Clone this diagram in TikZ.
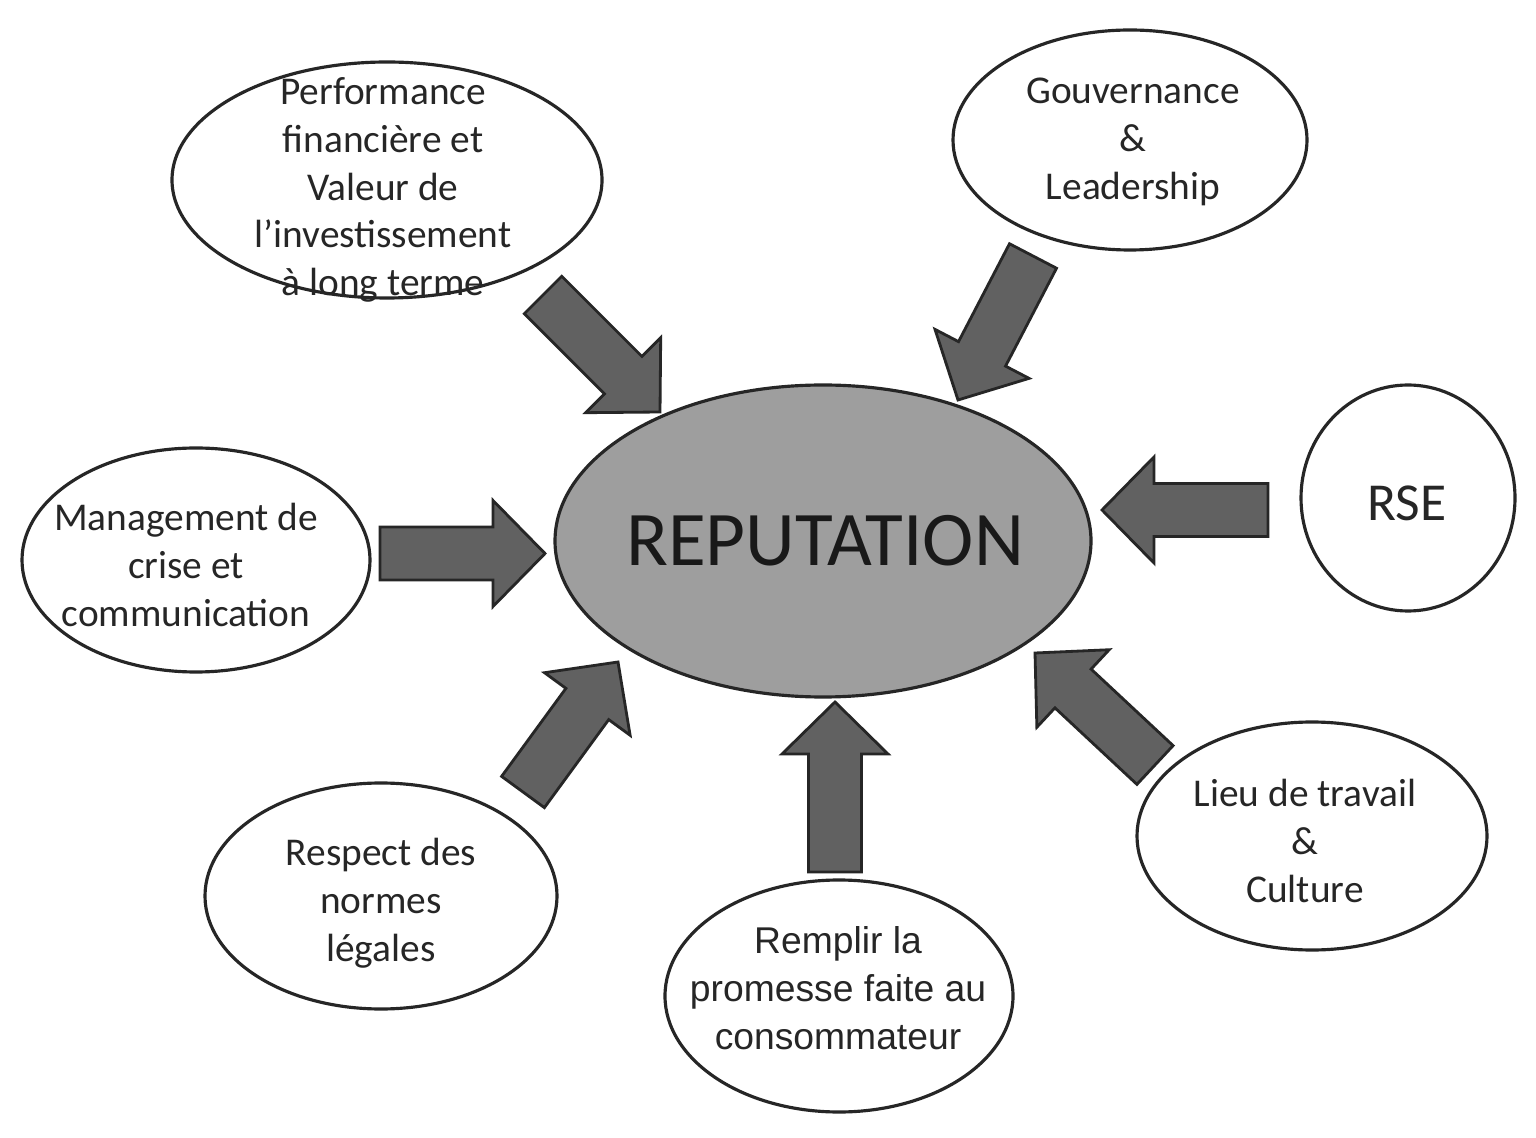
\documentclass[tikz,border=0pt]{standalone}
\usepackage{fontspec}
\setmainfont{Carlito}
\newfontfamily\arialfont{Liberation Sans}
\usepackage{tikz}
\usetikzlibrary{shapes.geometric,calc}

% block arrow from tail coordinate to tip coordinate
\newcommand{\flechebloc}[2]{%
  \coordinate (#1-col) at ($(#2)!0.52cm!(#1)$);
  \draw[fleche] ($(#1)!0.265cm!90:(#2)$) -- ($(#1-col)!0.265cm!90:(#2)$)
    -- ($(#1-col)!0.53cm!90:(#2)$) -- (#2) -- ($(#1-col)!0.53cm!-90:(#2)$)
    -- ($(#1-col)!0.265cm!-90:(#2)$) -- ($(#1)!0.265cm!-90:(#2)$) -- cycle;
}

\begin{document}
\begin{tikzpicture}[
    bulle/.style={ellipse, draw=black!85, line width=0.9pt, inner sep=0pt},
    texte/.style={align=center, font=\fontsize{11.2}{13.6}\selectfont, text=black!85},
    fleche/.style={draw=black!85, line width=0.8pt, fill=black!62, line join=miter}
]
\useasboundingbox[fill=white] (0,0) rectangle (15.36,11.37);

% Centre
\node[bulle, fill=black!38, minimum width=5.36cm, minimum height=3.12cm] (repu) at (8.23,5.96) {};
\node[font=\fontsize{22}{26}\selectfont, text=black!90] at (8.25,5.96) {REPUTATION};

% Facteurs
\node[bulle, minimum width=4.30cm, minimum height=2.36cm] (perf) at (3.87,9.57) {};
\node[texte] at (3.83,9.47) {Performance\\financière et\\Valeur de\\l’investissement\\à long terme};

\node[bulle, minimum width=3.54cm, minimum height=2.20cm] (gouv) at (11.30,9.97) {};
\node[texte] at (11.33,9.95) {Gouvernance\\\&\\Leadership};

\node[bulle, minimum width=2.14cm, minimum height=2.26cm] (rse) at (14.08,6.39) {};
\node[texte, font=\fontsize{15.2}{18}\selectfont] at (14.07,6.34) {RSE};

\node[bulle, minimum width=3.48cm, minimum height=2.24cm] (crise) at (1.96,5.77) {};
\node[texte] at (1.86,5.72) {Management de\\crise et\\communication};

\node[bulle, minimum width=3.52cm, minimum height=2.26cm] (normes) at (3.81,2.41) {};
\node[texte] at (3.81,2.34) {Respect des\\normes\\légales};

\node[bulle, minimum width=3.48cm, minimum height=2.32cm] (promesse) at (8.39,1.41) {};
\node[texte, font=\arialfont\fontsize{10.6}{13.6}\selectfont] at (8.38,1.49) {Remplir la\\promesse faite au\\consommateur};

\node[bulle, minimum width=3.50cm, minimum height=2.28cm] (lieu) at (13.12,3.01) {};
\node[texte] at (13.05,2.96) {Lieu de travail\\\&\\Culture};

% Fleches
\coordinate (perf-q) at (5.43,8.42);      \coordinate (perf-p) at (6.60,7.25);
\coordinate (gouv-q) at (10.33,8.81);     \coordinate (gouv-p) at (9.58,7.37);
\coordinate (rse-q) at (12.68,6.27);      \coordinate (rse-p) at (11.02,6.27);
\coordinate (crise-q) at (3.80,5.835);    \coordinate (crise-p) at (5.45,5.835);
\coordinate (normes-q) at (5.23,3.45);    \coordinate (normes-p) at (6.18,4.75);
\coordinate (promesse-q) at (8.35,2.65);  \coordinate (promesse-p) at (8.35,4.35);
\coordinate (lieu-q) at (11.55,3.72);     \coordinate (lieu-p) at (10.35,4.84);

\flechebloc{perf-q}{perf-p}
\flechebloc{gouv-q}{gouv-p}
\flechebloc{rse-q}{rse-p}
\flechebloc{crise-q}{crise-p}
\flechebloc{normes-q}{normes-p}
\flechebloc{promesse-q}{promesse-p}
\flechebloc{lieu-q}{lieu-p}

\end{tikzpicture}
\end{document}
